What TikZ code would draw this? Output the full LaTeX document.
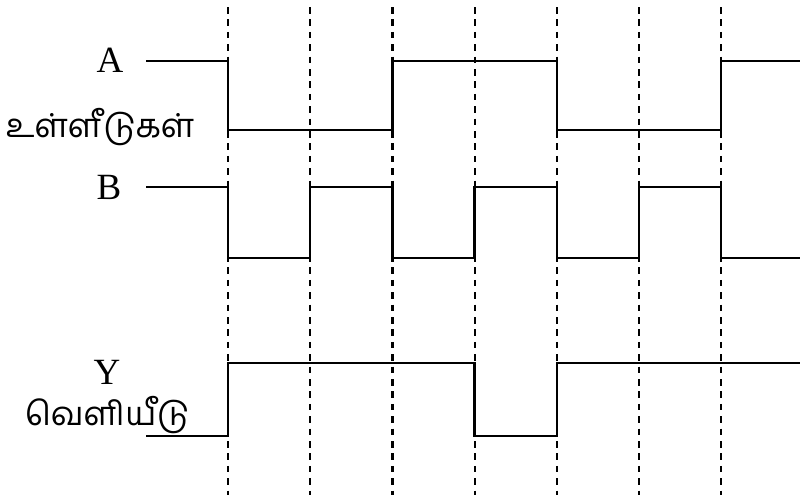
\documentclass[tikz,border=0pt]{standalone}
\usepackage{fontspec}
\setmainfont{Liberation Serif}
\newfontfamily\tamilfont[Script=Tamil]{Hind Madurai}
\usetikzlibrary{positioning}

\begin{document}
\begin{tikzpicture}[
    x=0.5pt, y=-0.5pt,
    wave/.style={draw=black, line width=1.2pt, line join=miter},
    guide/.style={draw=black, line width=1.1pt, dash pattern=on 3.3pt off 2.9pt},
    siglabel/.style={inner sep=0pt, font=\fontsize{18.5}{18.5}\selectfont},
    tamlabel/.style={inner sep=0pt, font=\tamilfont\fontsize{16.5}{16.5}\selectfont}
]
\useasboundingbox (0,0) rectangle (800,500);

% clock edges
\foreach \i in {0,...,6} {
    \coordinate (top\i) at ({228+82.2*\i},7);
    \coordinate (bot\i) at ({228+82.2*\i},495);
    \draw [guide] (top\i) -- (bot\i);
}

% labels
\node (lblA) [siglabel] at (110,60) {A};
\node (lblIn) [tamlabel] at (100,127) {உள்ளீடுகள்};
\node (lblB) [siglabel] at (109,187) {B};
\node (lblY) [siglabel] at (107,372) {Y};
\node (lblOut) [tamlabel] at (107,415) {வெளியீடு};

% input A
\draw [wave] (146,61) -- (228,61) -- (228,130) -- (392.4,130) -- (392.4,61)
    -- (556.8,61) -- (556.8,130) -- (721.2,130) -- (721.2,61) -- (800,61);

% input B
\draw [wave] (146,187) -- (228,187) -- (228,258) -- (310.2,258) -- (310.2,187)
    -- (392.4,187) -- (392.4,258) -- (474.6,258) -- (474.6,187) -- (556.8,187)
    -- (556.8,258) -- (639,258) -- (639,187) -- (721.2,187) -- (721.2,258) -- (800,258);

% output Y
\draw [wave] (146,436) -- (228,436) -- (228,363) -- (474.6,363) -- (474.6,436)
    -- (556.8,436) -- (556.8,363) -- (800,363);

\end{tikzpicture}
\end{document}
